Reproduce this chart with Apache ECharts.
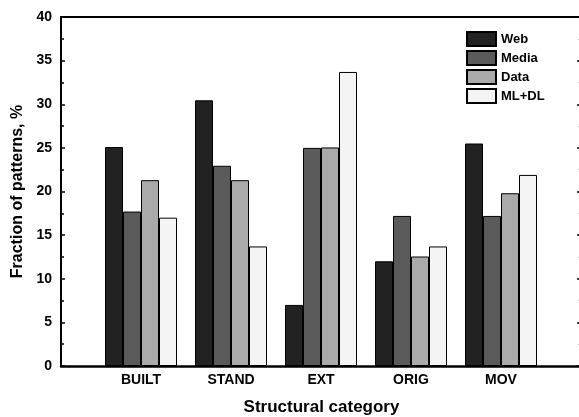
<!DOCTYPE html>
<html>
<head>
<meta charset="utf-8">
<script src="https://cdn.jsdelivr.net/npm/echarts@6/dist/echarts.min.js"></script>
<style>html,body{margin:0;padding:0;background:#fff;}#c{width:579px;height:417px;}</style>
</head>
<body>
<div id="c"></div>
<script>
const categories = ['BUILT', 'STAND', 'EXT', 'ORIG', 'MOV'];
const seriesNames = ['Web', 'Media', 'Data', 'ML+DL'];
const web = [25.1, 30.45, 7.0, 12.0, 25.5];
const media = [17.7, 22.95, 25.0, 17.2, 17.2];
const data = [21.3, 21.3, 25.05, 12.55, 19.8];
const mldl = [17.0, 13.7, 33.7, 13.7, 21.9];
const yTicks = [0, 5, 10, 15, 20, 25, 30, 35, 40];
const colors = ['#222222', '#5a5a5a', '#aaaaaa', '#f4f4f4'];

const values = [web, media, data, mldl];
const FONT = 'Liberation Sans, Arial, sans-serif';
const XMIN = 0.111, XMAX = 5.900;
const chart = echarts.init(document.getElementById('c'), null, {renderer: 'canvas'});
chart.setOption({
  animation: false,
  backgroundColor: '#fff',
  grid: {left: 61, right: -3, top: 17, bottom: 51, outerBoundsMode: 'none', containLabel: false},
  legend: {
    orient: 'vertical', left: 466, top: 31, padding: 0,
    itemWidth: 29, itemHeight: 14, itemGap: 3,
    icon: 'rect',
    textStyle: {fontFamily: FONT, fontWeight: 'bold', fontSize: 13, color: '#000'},
    data: seriesNames
  },
  xAxis: [{
    type: 'value', min: XMIN, max: XMAX,
    splitLine: {show: false},
    axisLine: {show: true, lineStyle: {color: '#000', width: 2.5}},
    axisTick: {show: false},
    axisLabel: {
      customValues: categories.map((c, i) => i + 1),
      formatter: v => categories[Math.round(v) - 1] || '',
      fontFamily: FONT, fontWeight: 'bold', fontSize: 14, color: '#000', margin: 7
    },
    name: 'Structural category', nameLocation: 'middle', nameGap: 33,
    nameTextStyle: {fontFamily: FONT, fontWeight: 'bold', fontSize: 17, color: '#000'}
  }, {
    type: 'value', min: XMIN, max: XMAX, position: 'top',
    splitLine: {show: false},
    axisLine: {show: true, onZero: false, lineStyle: {color: '#000', width: 2}},
    axisTick: {show: false}, axisLabel: {show: false}
  }],
  yAxis: [{
    type: 'value', min: 0, max: 40, interval: 5,
    splitLine: {show: false},
    axisLine: {show: true, lineStyle: {color: '#000', width: 2}},
    axisTick: {show: true, inside: true, length: 4, lineStyle: {color: '#000', width: 1.5}},
    minorTick: {show: true, splitNumber: 2, length: 3, lineStyle: {color: '#000', width: 1.5}},
    axisLabel: {
      customValues: yTicks,
      fontFamily: FONT, fontWeight: 'bold', fontSize: 14, color: '#000', margin: 9
    },
    name: 'Fraction of patterns, %', nameLocation: 'middle', nameGap: 29,
    nameTextStyle: {fontFamily: FONT, fontWeight: 'bold', fontSize: 16, color: '#000'}
  }, {
    type: 'value', min: 0, max: 40, interval: 5, position: 'right',
    splitLine: {show: false},
    axisLine: {show: true, onZero: false, lineStyle: {color: '#000', width: 2}},
    axisTick: {show: true, inside: true, length: 5, lineStyle: {color: '#000', width: 1.5}},
    minorTick: {show: true, splitNumber: 2, length: 4, lineStyle: {color: '#bbb', width: 1}},
    axisLabel: {show: false}
  }],
  series: seriesNames.map((name, s) => ({
    name: name,
    type: 'bar',
    xAxisIndex: 0, yAxisIndex: 0,
    barWidth: 18, barGap: '0%',
    itemStyle: {color: colors[s], borderColor: '#000', borderWidth: 1},
    data: values[s].map((v, i) => [i + 1, v])
  }))
});
</script>
</body>
</html>
